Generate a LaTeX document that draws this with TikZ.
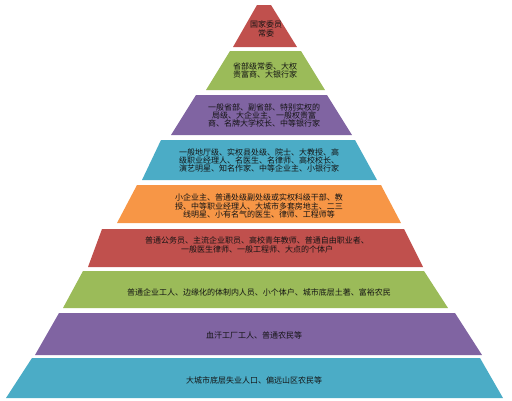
\documentclass[tikz,border=0pt]{standalone}
\usepackage{fontspec}
\newfontfamily\cjk{Noto Sans CJK SC}
\usepackage{tikz}
\usetikzlibrary{shapes}

\begin{document}
\begin{tikzpicture}[x=1pt,y=1pt,yscale=-1,xscale=1]
\tikzset{tier/.style={draw opacity=0},
  tiertext/.style={anchor=center,inner sep=0.75pt,align=center,font=\cjk\fontsize{8}{8.4}\selectfont,text={rgb,255:red,20;green,20;blue,20}}}
\useasboundingbox (0,0) rectangle (512,400);

%Shape: Trapezoid [id:tier1] 
\draw  [tier,fill={rgb, 255:red, 192; green, 80; blue, 77 }  ,fill opacity=1 ] (257,5) -- (271,5) -- (297,47) -- (233,47) -- cycle ;
%Shape: Trapezoid [id:tier2] 
\draw  [tier,fill={rgb, 255:red, 155; green, 187; blue, 89 }  ,fill opacity=1 ] (230,51) -- (301,51) -- (325,90) -- (206,90) -- cycle ;
%Shape: Trapezoid [id:tier3] 
\draw  [tier,fill={rgb, 255:red, 128; green, 100; blue, 162 }  ,fill opacity=1 ] (196,95) -- (327,95) -- (352,135) -- (171,135) -- cycle ;
%Shape: Trapezoid [id:tier4] 
\draw  [tier,fill={rgb, 255:red, 75; green, 172; blue, 198 }  ,fill opacity=1 ] (161,140) -- (355,140) -- (377,180) -- (142,180) -- cycle ;
%Shape: Trapezoid [id:tier5] 
\draw  [tier,fill={rgb, 255:red, 247; green, 150; blue, 70 }  ,fill opacity=1 ] (137,185) -- (381,185) -- (401,223) -- (117,223) -- cycle ;
%Shape: Trapezoid [id:tier6] 
\draw  [tier,fill={rgb, 255:red, 192; green, 80; blue, 77 }  ,fill opacity=1 ] (102,229) -- (404,229) -- (423,267) -- (88,267) -- cycle ;
%Shape: Trapezoid [id:tier7] 
\draw  [tier,fill={rgb, 255:red, 155; green, 187; blue, 89 }  ,fill opacity=1 ] (83,271) -- (424,271) -- (448,308) -- (63,308) -- cycle ;
%Shape: Trapezoid [id:tier8] 
\draw  [tier,fill={rgb, 255:red, 128; green, 100; blue, 162 }  ,fill opacity=1 ] (59,313) -- (455,313) -- (482,355) -- (35,355) -- cycle ;
%Shape: Trapezoid [id:tier9] 
\draw  [tier,fill={rgb, 255:red, 75; green, 172; blue, 198 }  ,fill opacity=1 ] (32,358) -- (480,358) -- (503,398) -- (6,398) -- cycle ;

% Text Node
\draw (266,29) node (txtA) [tiertext]    {国家委员\\常委};
% Text Node
\draw (265,70.5) node (txtB) [tiertext]    {省部级常委、大权\\贵富商、大银行家};
% Text Node
\draw (264,115.5) node (txtC) [tiertext]    {一般省部、副省部、特别实权的\\局级、大企业主、一般权贵富\\商、名牌大学校长、中等银行家};
% Text Node
\draw (259,160.5) node (txtD) [tiertext]    {一般地厅级、实权县处级、院士、大教授、高\\级职业经理人、名医生、名律师、高校校长、\\演艺明星、知名作家、中等企业主、小银行家};
% Text Node
\draw (259,206) node (txtE) [tiertext]    {小企业主、普通处级副处级或实权科级干部、教\\授、中等职业经理人、大城市多套房地主、二三\\线明星、小有名气的医生、律师、工程师等};
% Text Node
\draw (257,245) node (txtF) [tiertext]    {普通公务员、主流企业职员、高校青年教师、普通自由职业者、\\一般医生律师、一般工程师、大点的个体户};
% Text Node
\draw (259,292) node (txtG) [tiertext]    {普通企业工人、边缘化的体制内人员、小个体户、城市底层土著、富裕农民};
% Text Node
\draw (254,335) node (txtH) [tiertext]    {血汗工厂工人、普通农民等};
% Text Node
\draw (254,380) node (txtI) [tiertext]    {大城市底层失业人口、偏远山区农民等};

\end{tikzpicture}
\end{document}
